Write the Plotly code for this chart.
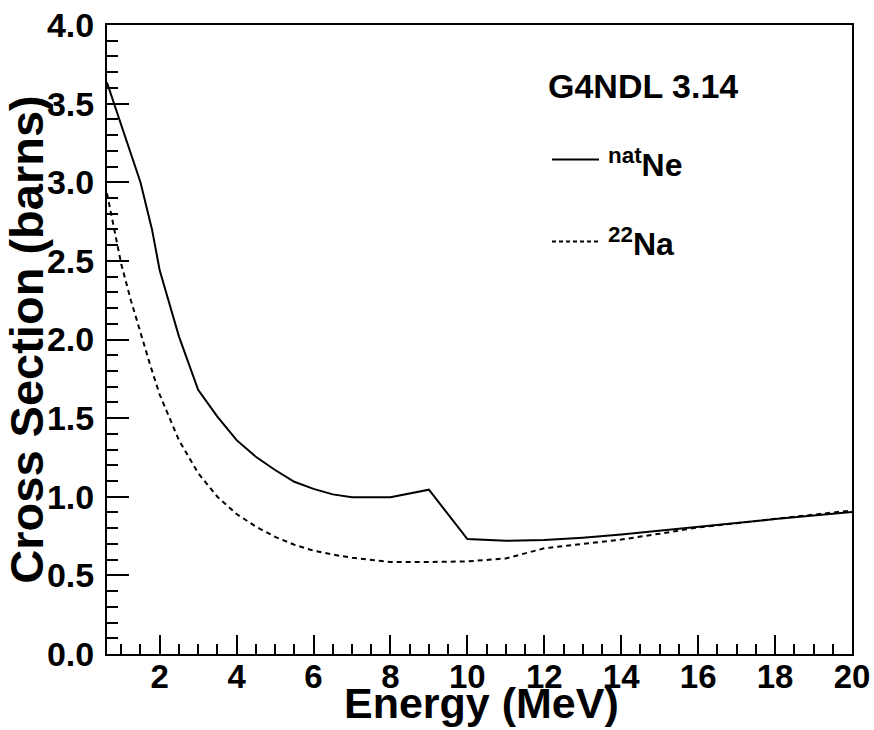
import plotly.graph_objects as go

# natNe cross section (barns) vs energy (MeV)
x_ne = [0.63, 1.5, 1.8, 2.0, 2.5, 3.0, 3.5, 4.0, 4.5, 5.0, 5.5, 6.0, 6.5, 7.0, 8.0, 9.0,
        10.0, 11.0, 12.0, 13.0, 14.0, 15.0, 16.0, 17.0, 18.0, 19.0, 20.0]
y_ne = [3.634, 3.0, 2.70, 2.44, 2.02, 1.68, 1.51, 1.36, 1.254, 1.17, 1.095, 1.05, 1.015, 0.997,
        0.997, 1.045, 0.731, 0.720, 0.725, 0.74, 0.76, 0.785, 0.812, 0.836, 0.858, 0.88, 0.903]

# 22Na cross section (barns) vs energy (MeV)
x_na = [0.63, 0.75, 1.0, 1.25, 1.5, 1.75, 2.0, 2.5, 3.0, 3.5, 4.0, 4.5, 5.0, 5.5, 6.0, 6.5,
        7.0, 7.5, 8.0, 9.0, 10.0, 11.0, 12.0, 13.0, 14.0, 15.0, 16.0, 17.0, 18.0, 19.0, 20.0]
y_na = [2.93, 2.78, 2.48, 2.25, 2.04, 1.84, 1.65, 1.36, 1.15, 1.00, 0.89, 0.81, 0.745, 0.695,
        0.657, 0.632, 0.612, 0.597, 0.585, 0.585, 0.589, 0.608, 0.672, 0.70, 0.728, 0.765,
        0.805, 0.832, 0.858, 0.885, 0.913]

x_ticks = [2, 4, 6, 8, 10, 12, 14, 16, 18, 20]
y_ticks = [0.0, 0.5, 1.0, 1.5, 2.0, 2.5, 3.0, 3.5, 4.0]

FONT = "Liberation Sans"

fig = go.Figure()
fig.add_trace(go.Scatter(x=x_ne, y=y_ne, mode="lines",
                         line=dict(color="black", width=2), showlegend=False))
fig.add_trace(go.Scatter(x=x_na, y=y_na, mode="lines",
                         line=dict(color="black", width=2, dash="5px,4px"), showlegend=False))

W, H = 874, 730
L, R, T, B = 107, 22, 25, 76

fig.update_layout(
    width=W, height=H,
    margin=dict(l=L, r=R, t=T, b=B, pad=0, autoexpand=False),
    paper_bgcolor="white", plot_bgcolor="white",
    font=dict(family=FONT, color="black"),
)

fig.update_xaxes(
    range=[0.63, 20], tickmode="array", tickvals=x_ticks, ticktext=[str(v) for v in x_ticks],
    ticks="inside", ticklen=19, tickwidth=1.5, tickcolor="black",
    minor=dict(dtick=0.5, tick0=0, ticks="inside", ticklen=10, tickwidth=1.5, tickcolor="black"),
    showline=True, linecolor="black", linewidth=2, mirror=True,
    showgrid=False, zeroline=False, automargin=False,
    tickfont=dict(family=FONT, size=33, weight="bold", color="black"),
    ticklabelstandoff=-8,
)
fig.update_yaxes(
    range=[0, 4], tickmode="array", tickvals=y_ticks, ticktext=[f"{v:.1f}" for v in y_ticks],
    ticks="inside", ticklen=22, tickwidth=1.5, tickcolor="black",
    minor=dict(dtick=0.1, tick0=0, ticks="inside", ticklen=11, tickwidth=1.5, tickcolor="black"),
    showline=True, linecolor="black", linewidth=2, mirror=True,
    showgrid=False, zeroline=False, automargin=False,
    tickfont=dict(family=FONT, size=34, weight="bold", color="black"),
    ticklabelstandoff=4,
    title=dict(text="Cross Section (barns)", font=dict(family=FONT, size=47, weight="bold", color="black"),
               standoff=0),
)

pw, ph = W - L - R, H - T - B
def px(x):
    return (x - L) / pw
def py(y):
    return (H - B - y) / ph

# X axis title
fig.add_annotation(x=px(481), y=py(703), xref="paper", yref="paper", xanchor="center", yanchor="middle",
                   text="Energy (MeV)", showarrow=False,
                   font=dict(family=FONT, size=43, weight="bold", color="black"))

# Legend text
fig.add_annotation(x=px(546), y=py(86), xref="paper", yref="paper", xanchor="left", yanchor="middle",
                   text="G4NDL 3.14", showarrow=False,
                   font=dict(family=FONT, size=34, weight="bold", color="black"))
fig.add_annotation(x=px(606), y=py(163), xref="paper", yref="paper", xanchor="left", yanchor="middle",
                   text="<sup>nat</sup>Ne", showarrow=False,
                   font=dict(family=FONT, size=32, weight="bold", color="black"))
fig.add_annotation(x=px(606), y=py(242), xref="paper", yref="paper", xanchor="left", yanchor="middle",
                   text="<sup>22</sup>Na", showarrow=False,
                   font=dict(family=FONT, size=32, weight="bold", color="black"))
# Legend line samples
fig.add_shape(type="line", xref="paper", yref="paper", x0=px(552), x1=px(599), y0=py(159.5), y1=py(159.5),
              line=dict(color="black", width=2))
fig.add_shape(type="line", xref="paper", yref="paper", x0=px(552), x1=px(598), y0=py(241.5), y1=py(241.5),
              line=dict(color="black", width=2, dash="4px,3px"))

fig.write_html("out.html", config={"displayModeBar": False},
               post_script="document.body.style.margin='0';document.body.style.overflow='hidden';")
